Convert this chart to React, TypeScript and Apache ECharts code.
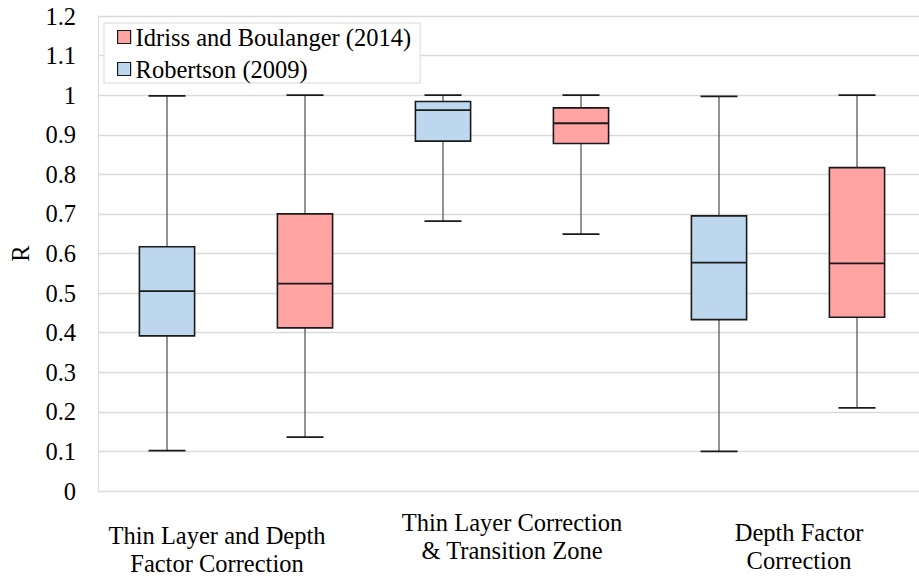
import React, { useEffect, useRef } from "react";
import * as echarts from "echarts";

const categories = [
  "Thin Layer and Depth\nFactor Correction",
  "Thin Layer Correction\n& Transition Zone",
  "Depth Factor\nCorrection",
];
const yTicks = [0, 0.1, 0.2, 0.3, 0.4, 0.5, 0.6, 0.7, 0.8, 0.9, 1, 1.1, 1.2];

const robertsonMin = [0.102, 0.682, 0.1];
const robertsonQ1 = [0.392, 0.884, 0.433];
const robertsonMedian = [0.505, 0.962, 0.577];
const robertsonQ3 = [0.617, 0.984, 0.695];
const robertsonMax = [0.998, 1.0, 0.997];

const idrissMin = [0.136, 0.649, 0.21];
const idrissQ1 = [0.412, 0.878, 0.439];
const idrissMedian = [0.524, 0.929, 0.575];
const idrissQ3 = [0.7, 0.968, 0.817];
const idrissMax = [1.0, 1.0, 1.0];

const FONT = "Liberation Serif, Times New Roman, serif";
const FS = 24.5;
const BLUE = "#BDD7EE";
const RED = "#FFA3A3";

function rows(mn: number[], q1: number[], md: number[], q3: number[], mx: number[]) {
  return categories.map((_, i) => [i, mn[i], q1[i], md[i], q3[i], mx[i]]);
}

function makeRender(offsetFrac: number, fill: string) {
  return (params: any, api: any) => {
    const xi = api.value(0);
    const bw = api.size([1, 0])[0];
    const cx = api.coord([xi, 0])[0] + offsetFrac * bw;
    const y = (d: number) => api.coord([xi, api.value(d)])[1];
    const yMin = y(1), yQ1 = y(2), yMed = y(3), yQ3 = y(4), yMax = y(5);
    const boxW = bw * 0.2;
    const capW = bw * 0.134;
    const whisker = { stroke: "#595959", lineWidth: 1.3 };
    const dark = { stroke: "#1a1a1a", lineWidth: 1.8 };
    return {
      type: "group",
      children: [
        { type: "line", shape: { x1: cx, y1: yMax, x2: cx, y2: yQ3 }, style: whisker },
        { type: "line", shape: { x1: cx, y1: yQ1, x2: cx, y2: yMin }, style: whisker },
        { type: "line", shape: { x1: cx - capW / 2, y1: yMax, x2: cx + capW / 2, y2: yMax }, style: dark },
        { type: "line", shape: { x1: cx - capW / 2, y1: yMin, x2: cx + capW / 2, y2: yMin }, style: dark },
        {
          type: "rect",
          shape: { x: cx - boxW / 2, y: yQ3, width: boxW, height: yQ1 - yQ3 },
          style: { fill, stroke: "#1a1a1a", lineWidth: 1.6 },
        },
        { type: "line", shape: { x1: cx - boxW / 2, y1: yMed, x2: cx + boxW / 2, y2: yMed }, style: dark },
      ],
    };
  };
}

export default function App() {
  const ref = useRef<HTMLDivElement>(null);
  useEffect(() => {
    if (!ref.current) return;
    const chart = echarts.init(ref.current, undefined, { renderer: "svg" });
    const labelSpacer = [13, 0, 10];
    const labelShift = [-19, 0, 11];
    chart.setOption({
      animation: false,
      backgroundColor: "#ffffff",
      textStyle: { fontFamily: FONT },
      grid: { left: 97, right: 9, top: 16, bottom: 85, containLabel: false },
      legend: {
        orient: "vertical",
        left: 104,
        top: 23,
        padding: [1, 9, 1, 13],
        itemGap: 6,
        itemWidth: 13,
        itemHeight: 13,
        icon: "rect",
        borderColor: "#d9d9d9",
        borderWidth: 1,
        backgroundColor: "#ffffff",
        textStyle: { fontFamily: FONT, fontSize: FS, color: "#000", lineHeight: 26 },
        data: [
          { name: "Idriss and Boulanger (2014)", itemStyle: { color: RED, borderColor: "#1a1a1a", borderWidth: 1.2 } },
          { name: "Robertson (2009)", itemStyle: { color: BLUE, borderColor: "#1a1a1a", borderWidth: 1.2 } },
        ],
      },
      xAxis: {
        type: "category",
        data: categories,
        axisLine: { show: true, lineStyle: { color: "#d9d9d9", width: 1 } },
        axisTick: { show: false },
        splitLine: { show: false },
        axisLabel: {
          interval: 0,
          margin: 17,
          color: "#000",
          fontFamily: FONT,
          fontSize: FS,
          formatter: (value: string, index: number) => {
            const lines = value.split("\n");
            const sp = labelSpacer[index];
            const style = labelShift[index] < 0 ? "l" + index : labelShift[index] > 0 ? "r" + index : "c";
            const body = lines.map((ln) => `{${style}|${ln}}`).join("\n");
            return sp ? `{s${index}| }\n${body}` : body;
          },
          rich: {
            c: { fontSize: FS, lineHeight: 28, fontFamily: FONT, color: "#000" },
            l0: { fontSize: FS, lineHeight: 28, fontFamily: FONT, color: "#000", padding: [0, 38, 0, 0] },
            r2: { fontSize: FS, lineHeight: 28, fontFamily: FONT, color: "#000", padding: [0, 0, 0, 22] },
            s0: { fontSize: 2, lineHeight: 13, fontFamily: FONT },
            s2: { fontSize: 2, lineHeight: 10, fontFamily: FONT },
          },
        },
      },
      yAxis: {
        type: "value",
        min: yTicks[0],
        max: yTicks[yTicks.length - 1],
        interval: 0.1,
        name: "R",
        nameLocation: "middle",
        nameRotate: 90,
        nameGap: 65,
        nameTextStyle: { fontFamily: FONT, fontSize: FS, color: "#000" },
        axisLine: { show: true, lineStyle: { color: "#d9d9d9", width: 1 } },
        axisTick: { show: false },
        axisLabel: {
          margin: 22,
          color: "#000",
          fontFamily: FONT,
          fontSize: FS,
          formatter: (v: number) => String(+v.toFixed(1)),
        },
        splitLine: { show: true, lineStyle: { color: "#d9d9d9", width: 1.3 } },
      },
      series: [
        {
          name: "Idriss and Boulanger (2014)",
          type: "custom",
          itemStyle: { color: RED },
          encode: { x: 0, y: [1, 2, 3, 4, 5] },
          data: rows(idrissMin, idrissQ1, idrissMedian, idrissQ3, idrissMax),
          renderItem: makeRender(0.25, RED),
          z: 3,
        },
        {
          name: "Robertson (2009)",
          type: "custom",
          itemStyle: { color: BLUE },
          encode: { x: 0, y: [1, 2, 3, 4, 5] },
          data: rows(robertsonMin, robertsonQ1, robertsonMedian, robertsonQ3, robertsonMax),
          renderItem: makeRender(-0.25, BLUE),
          z: 3,
        },
      ],
    });
    return () => chart.dispose();
  }, []);
  return (
    <div style={{ position: "fixed", left: 0, top: 0, width: 919, height: 576, overflow: "hidden", background: "#fff" }}>
      <div ref={ref} style={{ width: 935, height: 576 }} />
    </div>
  );
}
